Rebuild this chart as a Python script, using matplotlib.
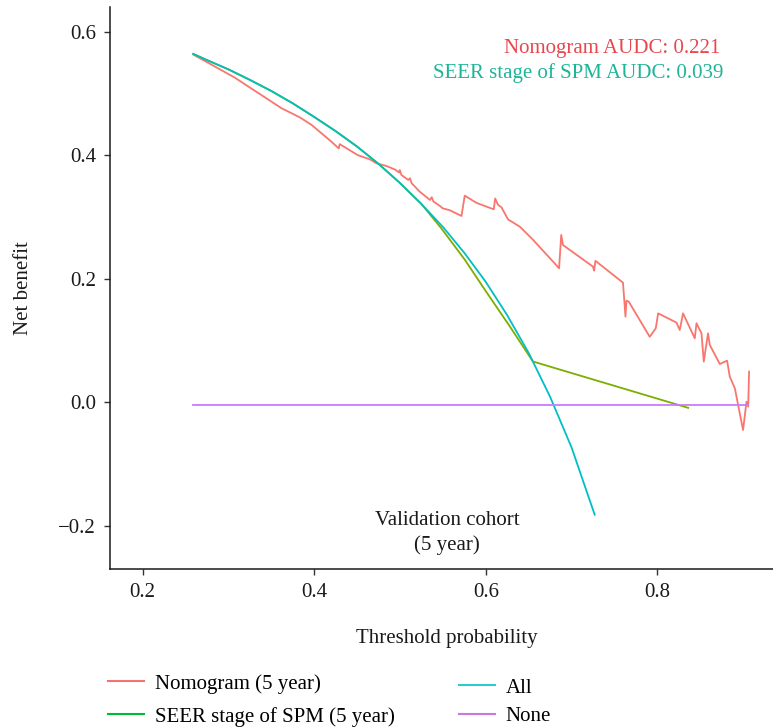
import matplotlib
matplotlib.use("Agg")
import matplotlib.pyplot as plt
from matplotlib.lines import Line2D

plt.rcParams['font.family'] = ['Liberation Serif', 'DejaVu Serif']

# ---- data ----
nomo_x = [0.259, 0.307, 0.362, 0.383, 0.397, 0.420, 0.4286, 0.4297, 0.451, 0.4647,
          0.4725, 0.484, 0.4939, 0.4990, 0.4997, 0.5017, 0.5097, 0.5117, 0.5136, 0.523,
          0.535, 0.537, 0.539, 0.5465, 0.5498, 0.558, 0.5717, 0.5755, 0.589, 0.6008,
          0.6093, 0.611, 0.6144, 0.6183, 0.626, 0.6397, 0.6552, 0.6855, 0.688, 0.690,
          0.725, 0.7263, 0.7279, 0.760, 0.7629, 0.764, 0.7667, 0.7912, 0.7982, 0.801,
          0.8224, 0.8262, 0.830, 0.8437, 0.8457, 0.8515, 0.8542, 0.8565, 0.8592, 0.8612,
          0.8729, 0.8814, 0.8845, 0.8904, 0.900, 0.904, 0.906, 0.907]
nomo_y = [0.563, 0.526, 0.476, 0.4615, 0.449, 0.422, 0.411, 0.418, 0.400, 0.3935,
          0.387, 0.3827, 0.377, 0.372, 0.376, 0.368, 0.360, 0.3627, 0.3547, 0.341,
          0.3276, 0.332, 0.325, 0.318, 0.314, 0.311, 0.3017, 0.3346, 0.323, 0.3168,
          0.3125, 0.330, 0.3195, 0.3157, 0.296, 0.2844, 0.263, 0.217, 0.271, 0.2547,
          0.2196, 0.2131, 0.229, 0.1937, 0.1387, 0.1645, 0.163, 0.106, 0.1198, 0.144,
          0.129, 0.117, 0.144, 0.1036, 0.128, 0.1117, 0.0658, 0.0874, 0.1117, 0.0928,
          0.062, 0.0674, 0.0415, 0.0227, -0.0449, 0.001, -0.007, 0.0496]

seer_x = [0.259, 0.275, 0.30, 0.325, 0.35, 0.375, 0.40, 0.425, 0.45, 0.475, 0.50,
          0.525, 0.548, 0.575, 0.601, 0.628, 0.655, 0.836]
seer_y = [0.564, 0.554, 0.539, 0.522, 0.504, 0.484, 0.462, 0.439, 0.414, 0.386, 0.355,
          0.321, 0.282, 0.232, 0.178, 0.123, 0.066, -0.009]

all_x = [0.259, 0.275, 0.30, 0.325, 0.35, 0.375, 0.40, 0.425, 0.45, 0.475, 0.50,
         0.525, 0.55, 0.575, 0.60, 0.625, 0.65, 0.675, 0.70, 0.727]
all_y = [0.564, 0.554, 0.539, 0.522, 0.504, 0.484, 0.462, 0.439, 0.414, 0.386, 0.355,
         0.321, 0.284, 0.242, 0.195, 0.141, 0.080, 0.009, -0.073, -0.182]

none_x = [0.259, 0.906]
none_y = [-0.004, -0.004]

x_ticks = [0.2, 0.4, 0.6, 0.8]
y_ticks = [-0.2, 0.0, 0.2, 0.4, 0.6]

labels = ["Nomogram (5 year)", "SEER stage of SPM (5 year)", "All", "None"]
audc_labels = ["Nomogram AUDC: 0.221", "SEER stage of SPM AUDC: 0.039"]

# ---- styling ----
c_nomo = '#F8766D'
c_seer = '#7CAE00'
c_all = '#00BFC4'
c_none = '#C77CFF'
fs = 15

fig = plt.figure(figsize=(7.73, 7.27), dpi=100)
ax = fig.add_axes([110/773, 1-569.3/727, 1-110/773, (569.3-7)/727])

ax.plot(nomo_x, nomo_y, color=c_nomo, lw=1.3)
ax.plot(seer_x, seer_y, color=c_seer, lw=1.3)
ax.plot(all_x, all_y, color=c_all, lw=1.3)
ax.plot(none_x, none_y, color=c_none, lw=1.3)

ax.set_xlim(0.1619, 0.9349)
ax.set_ylim(-0.2704, 0.640)
ax.set_xticks(x_ticks)
ax.set_yticks(y_ticks)
ax.set_xticklabels([f"{v:.1f}" for v in x_ticks])
ax.set_yticklabels([f"{v:.1f}".replace('-', '\u2212') for v in y_ticks])
ax.tick_params(direction='out', length=4, width=1, colors='#333333',
               labelcolor='#1a1a1a', labelsize=fs, pad=6)
for s in ['top', 'right']:
    ax.spines[s].set_visible(False)
for s in ['left', 'bottom']:
    ax.spines[s].set_linewidth(1.1)
    ax.spines[s].set_color('#1a1a1a')

ax.text(0.873, 0.573, audc_labels[0], color='#E8474E', ha='right', va='center', fontsize=fs)
ax.text(0.877, 0.533, audc_labels[1], color='#1DB497', ha='right', va='center', fontsize=fs)
ax.text(0.5548, -0.212, "Validation cohort\n(5 year)", ha='center', va='center',
        fontsize=fs, color='#1a1a1a', linespacing=1.35)

fig.text(447/773, 1-638/727, "Threshold probability", ha='center', va='center',
         fontsize=fs, color='#1a1a1a')
fig.text(24/773, 1-288/727, "Net benefit", ha='center', va='center', rotation=90,
         fontsize=fs, color='#1a1a1a')

h1 = [Line2D([], [], color='#F07470', lw=1.5), Line2D([], [], color='#00BA38', lw=1.5)]
h2 = [Line2D([], [], color='#2ECBCB', lw=1.5), Line2D([], [], color='#CD75E0', lw=1.5)]
fig.legend(h1, labels[:2], loc='upper left', bbox_to_anchor=(108/773, 1-674/727),
           frameon=False, fontsize=fs, handlelength=1.75, handletextpad=0.5,
           borderpad=0, borderaxespad=0, labelspacing=0.62)
fig.legend(h2, labels[2:], loc='upper left', bbox_to_anchor=(459/773, 1-678/727),
           frameon=False, fontsize=fs, handlelength=1.75, handletextpad=0.5,
           borderpad=0, borderaxespad=0, labelspacing=0.42)

fig.savefig("out.png", dpi=100)
